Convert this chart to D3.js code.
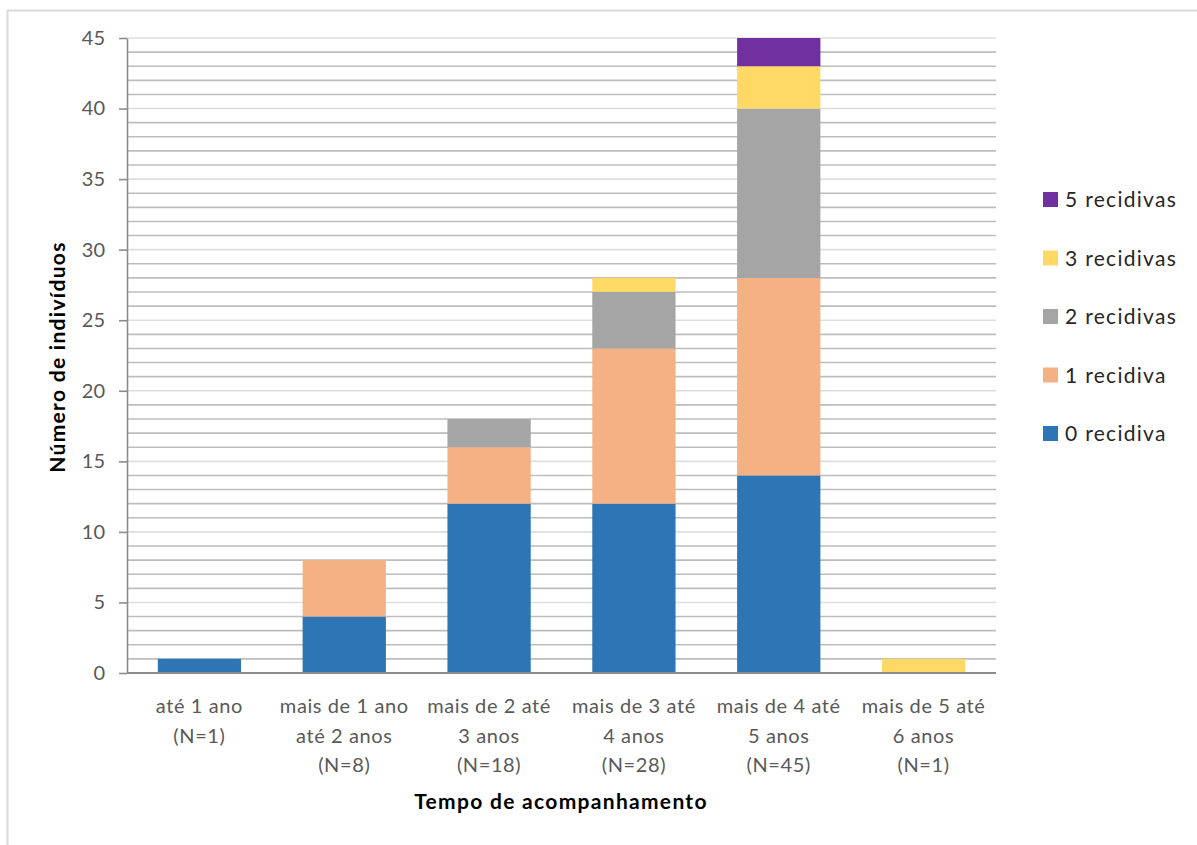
<!DOCTYPE html>
<html>
<head>
<meta charset="utf-8">
<script src="https://cdn.jsdelivr.net/npm/d3@7"></script>
<style>
  html, body { margin: 0; padding: 0; background: #fff; }
  svg { display: block; font-family: Lato, "Open Sans", sans-serif; }
</style>
</head>
<body>
<svg id="chart" width="1197" height="845"></svg>
<script>
// Follow-up time groups (x categories), each label split into lines
const categories = [
  ["até 1 ano", "(N=1)"],
  ["mais de 1 ano", "até 2 anos", "(N=8)"],
  ["mais de 2 até", "3 anos", "(N=18)"],
  ["mais de 3 até", "4 anos", "(N=28)"],
  ["mais de 4 até", "5 anos", "(N=45)"],
  ["mais de 5 até", "6 anos", "(N=1)"]
];

// Number of individuals per recurrence count, one array per series
const recidiva0 = [1, 4, 12, 12, 14, 0];
const recidiva1 = [0, 4, 4, 11, 14, 0];
const recidivas2 = [0, 0, 2, 4, 12, 0];
const recidivas3 = [0, 0, 0, 1, 3, 1];
const recidivas5 = [0, 0, 0, 0, 2, 0];

const seriesNames = ["0 recidiva", "1 recidiva", "2 recidivas", "3 recidivas", "5 recidivas"];
const seriesColors = ["#2E75B6", "#F4B183", "#A5A5A5", "#FFD966", "#7030A0"];
const yTicks = [0, 5, 10, 15, 20, 25, 30, 35, 40, 45];

const seriesValues = [recidiva0, recidiva1, recidivas2, recidivas3, recidivas5];
const rows = categories.map((c, i) => {
  const r = { key: i };
  seriesNames.forEach((s, j) => { r[s] = seriesValues[j][i]; });
  return r;
});

const svg = d3.select("#chart");

// outer chart frame
svg.append("rect")
  .attr("x", 7.5).attr("y", 10.5)
  .attr("width", 1300).attr("height", 900)
  .attr("fill", "none").attr("stroke", "#d9d9d9").attr("stroke-width", 2);

const plot = { left: 127, right: 996, top: 38, bottom: 673 };

const x = d3.scaleBand()
  .domain(d3.range(categories.length))
  .range([plot.left, plot.right])
  .paddingInner(0.425)
  .paddingOuter(0.2125);

const y = d3.scaleLinear().domain([0, 45]).range([plot.bottom, plot.top]);

// gridlines: minor every 1, major every 5
const grid = svg.append("g");
grid.selectAll("line.minor")
  .data(d3.range(1, 46).filter(v => v % 5 !== 0))
  .join("line")
  .attr("x1", plot.left).attr("x2", plot.right)
  .attr("y1", d => y(d)).attr("y2", d => y(d))
  .attr("stroke", "#bdbdbd").attr("stroke-width", 1.6);
grid.selectAll("line.major")
  .data(yTicks.filter(v => v > 0))
  .join("line")
  .attr("x1", plot.left).attr("x2", plot.right)
  .attr("y1", d => y(d)).attr("y2", d => y(d))
  .attr("stroke", "#dedede").attr("stroke-width", 1.6);

// stacked bars
const stack = d3.stack().keys(seriesNames);
const stacked = stack(rows);

svg.append("g").selectAll("g")
  .data(stacked)
  .join("g")
  .attr("fill", (d, i) => seriesColors[i])
  .selectAll("rect")
  .data(d => d.filter(p => p[1] > p[0]))
  .join("rect")
  .attr("x", d => x(d.data.key))
  .attr("width", x.bandwidth())
  .attr("y", d => y(d[1]))
  .attr("height", d => y(d[0]) - y(d[1]));

// y axis
const yAxis = svg.append("g")
  .attr("transform", `translate(${plot.left},0)`)
  .call(d3.axisLeft(y).tickValues(yTicks).tickSize(8).tickSizeOuter(0).tickPadding(14));
yAxis.select(".domain").attr("stroke", "#8c8c8c").attr("stroke-width", 1.6);
yAxis.selectAll(".tick line").attr("stroke", "#8c8c8c").attr("stroke-width", 1.6);
yAxis.selectAll(".tick text")
  .attr("fill", "#595959").attr("font-size", 20)
  .attr("font-family", "Lato, 'Open Sans', sans-serif");

// x baseline
svg.append("line")
  .attr("x1", plot.left).attr("x2", plot.right)
  .attr("y1", y(0)).attr("y2", y(0))
  .attr("stroke", "#8c8c8c").attr("stroke-width", 1.8);

// category labels
const catLabels = svg.append("g").selectAll("text")
  .data(categories)
  .join("text")
  .attr("x", (d, i) => x(i) + x.bandwidth() / 2)
  .attr("y", 713)
  .attr("text-anchor", "middle")
  .attr("fill", "#595959")
  .attr("font-size", 20)
  .attr("letter-spacing", 0.6);
catLabels.selectAll("tspan")
  .data(d => d)
  .join("tspan")
  .attr("x", function () { return d3.select(this.parentNode).attr("x"); })
  .attr("dy", (d, i) => i === 0 ? 0 : 29.5)
  .text(d => d);

// axis titles
svg.append("text")
  .attr("x", 561).attr("y", 809)
  .attr("text-anchor", "middle")
  .attr("font-size", 21).attr("font-weight", "bold").attr("fill", "#000")
  .attr("letter-spacing", 1.3)
  .text("Tempo de acompanhamento");

svg.append("text")
  .attr("transform", "translate(65,357) rotate(-90)")
  .attr("text-anchor", "middle")
  .attr("font-size", 21).attr("font-weight", "bold").attr("fill", "#000")
  .attr("letter-spacing", 1.3)
  .text("Número de indivíduos");

// legend, listed top to bottom from highest series
const legendItems = seriesNames.map((n, i) => ({ name: n, color: seriesColors[i] })).reverse();
const legend = svg.append("g").selectAll("g")
  .data(legendItems)
  .join("g")
  .attr("transform", (d, i) => `translate(1043,${192 + i * 58.5})`);
legend.append("rect")
  .attr("width", 15).attr("height", 15)
  .attr("fill", d => d.color);
legend.append("text")
  .attr("x", 22).attr("y", 15)
  .attr("font-size", 21).attr("fill", "#262626")
  .attr("letter-spacing", 1.3)
  .text(d => d.name);
</script>
</body>
</html>
